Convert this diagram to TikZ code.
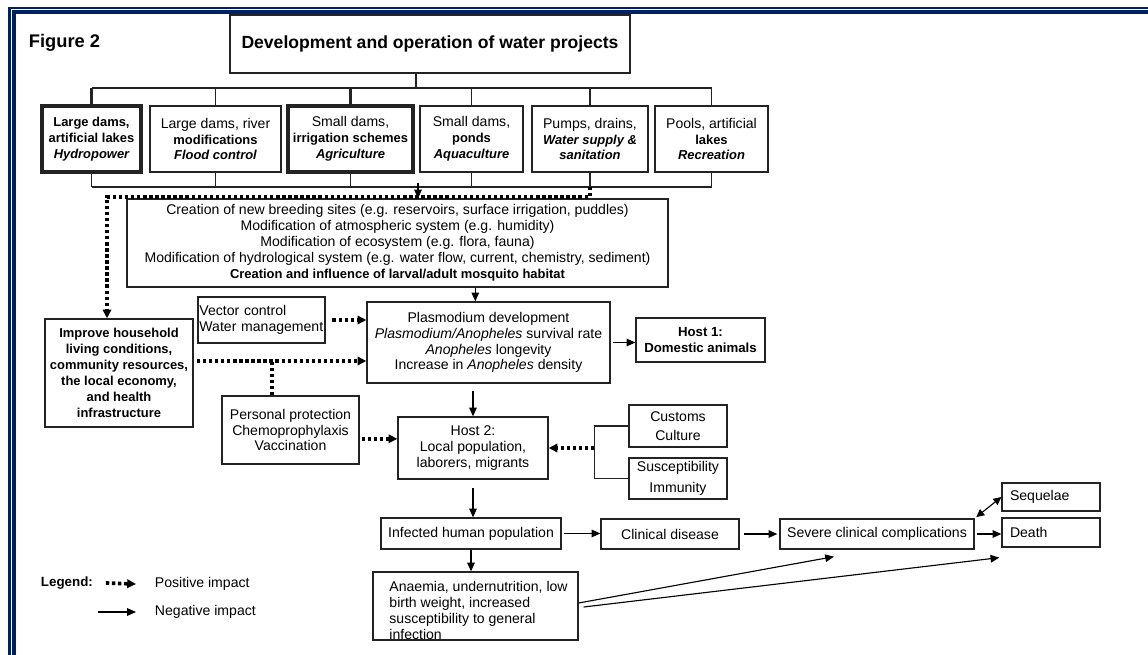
\documentclass[tikz,border=0pt]{standalone}
\usepackage{fontspec}
\setmainfont{Liberation Sans}
\usepackage{tikz}
\usetikzlibrary{arrows.meta, positioning, calc}
\definecolor{frameNavy}{RGB}{0, 32, 96}
\definecolor{boxLine}{RGB}{35, 35, 35}
\newcommand{\txtfont}{\fontsize{10}{11.3}\selectfont}
\newcommand{\boldfont}{\fontsize{9.2}{11.3}\selectfont\bfseries}

\begin{document}
\begin{tikzpicture}[x=0.025cm, y=-0.025cm,
				box/.style   = {draw=boxLine, line width=0.9pt, rectangle, inner sep=0pt,
					align=center, font=\txtfont},
				hbox/.style  = {box, line width=2.4pt},
				tree/.style  = {draw=boxLine, line width=0.8pt},
				negline/.style = {-{Triangle[length=0.22cm, width=0.19cm]}, line width=0.8pt},
				bothline/.style = {{Triangle[length=0.2cm, width=0.19cm]}-{Triangle[length=0.2cm, width=0.19cm]}, line width=0.8pt},
				posline/.style = {-{Triangle[length=0.22cm, width=0.21cm]}, line width=2.6pt,
					dash pattern=on 2.4pt off 1.9pt},
				dotline/.style = {line width=2.6pt, dash pattern=on 2.4pt off 1.9pt}
				]
				\useasboundingbox (0,0) rectangle (1148,655);
				% page frame
				\draw[frameNavy, line width=0.05cm] (9.5,655) -- (9.5,8) -- (1148,8);
				\draw[frameNavy, line width=0.1cm] (14,655) -- (14,12) -- (1148,12);
				
				\node[anchor=west, font=\fontsize{13}{15}\selectfont\bfseries] (figlabel) at (24,43) {Figure 2};
				\node[box, minimum width=10cm, minimum height=1.45cm, font=\fontsize{12.5}{14}\selectfont\bfseries]
				(dev) at (430,44) {Development and operation of water projects};
				
				% water projects
				\node[hbox, minimum width=2.475cm, minimum height=1.65cm, font=\boldfont] (hydro) at (91.5,139)
				{Large dams,\\artificial lakes\\\itshape Hydropower};
				\node[box, minimum width=3.275cm, minimum height=1.65cm] (flood) at (215.5,139)
				{Large dams, river\\{\boldfont modifications}\\{\boldfont\itshape Flood control}};
				\node[hbox, minimum width=3.125cm, minimum height=1.65cm] (agri) at (350.5,139)
				{Small dams,\\{\boldfont irrigation schemes}\\{\boldfont\itshape Agriculture}};
				\node[box, minimum width=2.575cm, minimum height=1.65cm] (aqua) at (471.5,139)
				{Small dams,\\{\boldfont ponds}\\{\boldfont\itshape Aquaculture}};
				\node[box, minimum width=2.9cm, minimum height=1.65cm] (supply) at (590,139)
				{Pumps, drains,\\{\boldfont\itshape Water supply \&}\\{\boldfont\itshape sanitation}};
				\node[box, minimum width=2.825cm, minimum height=1.65cm] (recre) at (711.5,139)
				{Pools, artificial\\{\boldfont lakes}\\{\boldfont\itshape Recreation}};
				
				\coordinate (treetop) at (416,88);
				\draw[tree] (dev.south -| treetop) -- (treetop);
				\draw[tree] (hydro.north |- treetop) -- (recre.north |- treetop);
				\draw[tree, line width=2.4pt] (hydro.north |- treetop) -- (hydro.north);
				\draw[tree] (flood.north |- treetop) -- (flood.north);
				\draw[tree, line width=2.4pt] (agri.north |- treetop) -- (agri.north);
				\draw[tree] (aqua.north |- treetop) -- (aqua.north);
				\draw[tree] (supply.north |- treetop) -- (supply.north);
				\draw[tree] (recre.north |- treetop) -- (recre.north);
				
				\coordinate (treebot) at (418,187);
				\draw[tree] (hydro.south |- treebot) -- (recre.south |- treebot);
				\draw[tree] (hydro.south) -- (hydro.south |- treebot);
				\draw[tree] (flood.south) -- (flood.south |- treebot);
				\draw[tree] (agri.south) -- (agri.south |- treebot);
				\draw[tree] (aqua.south) -- (aqua.south |- treebot);
				\draw[tree] (supply.south) -- (supply.south |- treebot);
				\draw[tree] (recre.south) -- (recre.south |- treebot);
				
				\node[box, minimum width=13.525cm, minimum height=2.2cm] (habitat) at (397.5,243)
				{Creation of new breeding sites (e.g. reservoirs, surface irrigation, puddles)\\
					Modification of atmospheric system (e.g. humidity)\\
					Modification of ecosystem (e.g. flora, fauna)\\
					Modification of hydrological system (e.g. water flow, current, chemistry, sediment)\\
					{\boldfont Creation and influence of larval/adult mosquito habitat}};
				
				\node[box, minimum width=3.7cm, minimum height=2.7cm, font=\boldfont] (improve) at (119,373)
				{Improve household\\living conditions,\\community resources,\\the local economy,\\and health\\infrastructure};
				
				\draw[posline] (supply.south |- treebot) -- ++(0,10) -| ([xshift=-0.3cm]improve.north);
				\draw[negline] ([yshift=0.1cm]treebot) -- (treebot |- habitat.north);
				
				% vector and hosts
				\node[box, minimum width=3.175cm, minimum height=1.15cm, text width=3.1cm, align=left] (vector) at (261.5,320)
				{Vector control\\Water management};
				\node[box, minimum width=6.075cm, minimum height=2.025cm] (plasmo) at (488.5,342.5)
				{Plasmodium development\\\textit{Plasmodium/Anopheles} survival rate\\\textit{Anopheles} longevity\\Increase in \textit{Anopheles} density};
				\node[box, minimum width=3.225cm, minimum height=1.1cm, font=\fontsize{9.4}{12}\selectfont\bfseries] (host1) at (700.5,340)
				{Host 1:\\Domestic animals};
				\node[box, minimum width=3.425cm, minimum height=1.7cm] (protect) at (290.5,430)
				{Personal protection\\Chemoprophylaxis\\Vaccination};
				\node[box, minimum width=3.75cm, minimum height=1.55cm] (host2) at (473,448)
				{Host 2:\\Local population,\\laborers, migrants};
				\node[box, minimum width=2.45cm, minimum height=1.05cm, font=\fontsize{10}{13.5}\selectfont] (customs) at (678,426)
				{Customs\\Culture};
				\node[box, minimum width=2.45cm, minimum height=1.025cm, font=\fontsize{10}{14.5}\selectfont] (suscept) at (678,478.5)
				{Susceptibility\\Immunity};
				
				\coordinate (p_in) at ([xshift=-0.33cm]plasmo.north);
				\draw[negline] (p_in |- habitat.south) -- (p_in);
				\draw[posline, shorten <=0.17cm] (vector.east) -- (vector.east -| plasmo.west);
				\coordinate (imp_out) at ([yshift=0.3cm]improve.east);
				\draw[posline, shorten <=0.08cm] (imp_out) -- (imp_out -| plasmo.west);
				\coordinate (prot_in) at ([xshift=-0.46cm]protect.north);
				\draw[dotline] (prot_in) -- (prot_in |- imp_out);
				\draw[negline, shorten <=0.05cm] (plasmo.east) -- (plasmo.east -| host1.west);
				\draw[negline, shorten <=0.18cm] (plasmo.south -| host2.north) -- (host2.north);
				\coordinate (prot_out) at ([yshift=-0.22cm]protect.east);
				\draw[posline, shorten <=0.05cm] (prot_out) -- (prot_out -| host2.west);
				\draw[tree] (customs.west) -- ++(-34,0) coordinate (brk_top) |- (suscept.west);
				\draw[posline] (brk_top |- host2.east) -- (host2.east);
				
				% outcomes
				\node[box, minimum width=4.5cm, minimum height=0.775cm] (infected) at (471,533.5) {Infected human population};
				\node[box, minimum width=5.125cm, minimum height=1.7cm] (anaemia) at (475.5,606) {};
				\node[anchor=north west, inner sep=0pt, align=left, font=\txtfont] (anaemia_txt)
				at ([xshift=0.42cm, yshift=-0.25cm]anaemia.north west)
				{Anaemia, undernutrition, low\\birth weight, increased\\susceptibility to general\\infection};
				\node[box, minimum width=3.45cm, minimum height=0.75cm] (clinical) at (670,534) {Clinical disease};
				\node[box, minimum width=4.85cm, minimum height=0.75cm] (severe) at (877,534) {Severe clinical complications};
				\node[box, minimum width=2.45cm, minimum height=0.7cm, text width=2.05cm, align=left] (sequelae) at (1051,497) {Sequelae};
				\node[box, minimum width=2.45cm, minimum height=0.725cm, text width=2.05cm, align=left] (death) at (1051,532.5) {Death};
				
				\draw[negline, shorten <=0.2cm] (host2.south) -- (host2.south |- infected.north);
				\draw[negline] (infected.south) -- (infected.south |- anaemia.north);
				\draw[negline, shorten <=0.05cm] (infected.east) -- (infected.east -| clinical.west);
				\draw[negline, shorten <=0.1cm, shorten >=0.05cm] (clinical.east) -- (severe.west);
				\draw[negline, shorten <=0.05cm] (severe.east) -- (severe.east -| death.west);
				\draw[bothline, shorten <=0.05cm] (severe.north east) -- (sequelae.west);
				\coordinate (sev_in) at ([xshift=-1.075cm, yshift=-0.175cm]severe.south);
				\coordinate (death_in) at ([xshift=-0.05cm, yshift=-0.25cm]death.south west);
				\draw[negline] ([yshift=0.075cm]anaemia.east) -- (sev_in);
				\draw[negline] ([xshift=0.125cm, yshift=-0.025cm]anaemia.east) -- (death_in);
				
				% legend
				\node[anchor=west, font=\fontsize{9.5}{11.3}\selectfont\bfseries] (legend) at (36,583) {Legend:};
				\node[anchor=west, font=\txtfont] (postxt) at (150,584) {Positive impact};
				\node[anchor=west, font=\txtfont] (negtxt) at (150,612) {Negative impact};
				\draw[posline] ([xshift=0.2cm]legend.east) -- ([xshift=-0.35cm]postxt.west);
				\draw[negline] ([xshift=-1.3cm]negtxt.west) -- ([xshift=-0.35cm]negtxt.west);
			\end{tikzpicture}
\end{document}
